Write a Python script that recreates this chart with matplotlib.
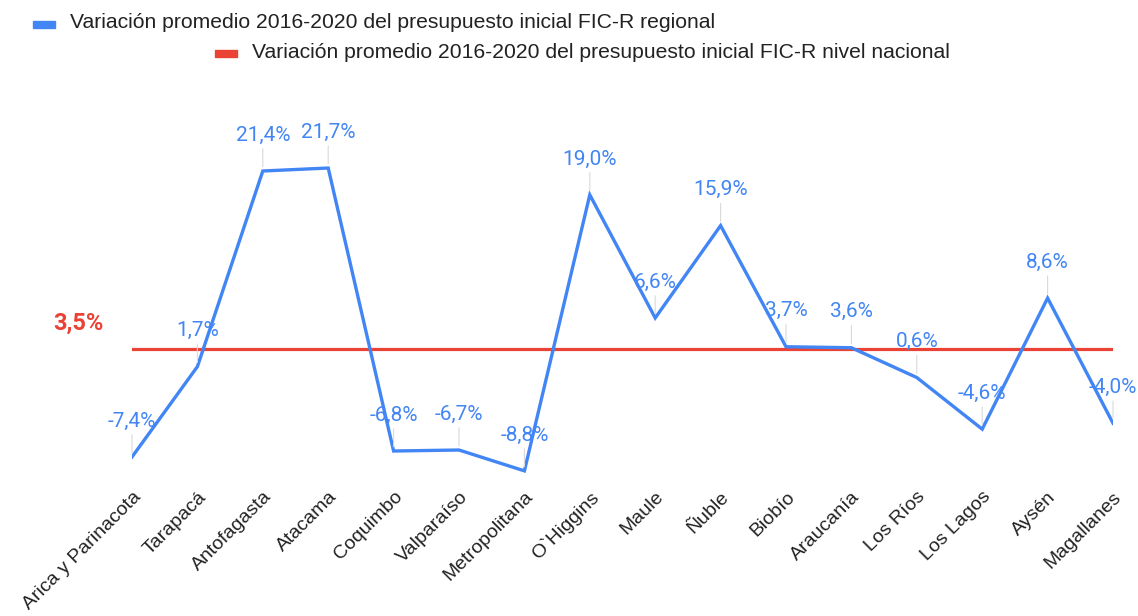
import matplotlib
matplotlib.use('Agg')
import matplotlib.pyplot as plt
from matplotlib.patches import Rectangle

# Datos
regiones = ['Arica y Parinacota', 'Tarapacá', 'Antofagasta', 'Atacama', 'Coquimbo',
            'Valparaíso', 'Metropolitana', 'O`Higgins', 'Maule', 'Ñuble', 'Biobío',
            'Araucanía', 'Los Ríos', 'Los Lagos', 'Aysén', 'Magallanes']
variacion_regional = [-7.4, 1.7, 21.4, 21.7, -6.8, -6.7, -8.8, 19.0, 6.6, 15.9,
                      3.7, 3.6, 0.6, -4.6, 8.6, -4.0]
variacion_nacional = 3.5

legend_regional = 'Variación promedio 2016-2020 del presupuesto inicial FIC-R regional'
legend_nacional = 'Variación promedio 2016-2020 del presupuesto inicial FIC-R nivel nacional'

azul = '#4285F4'
rojo = '#EA4335'

W, H = 1138, 616
fig = plt.figure(figsize=(W / 100, H / 100), dpi=100)
ax = fig.add_axes([132 / W, (H - 480) / H, (1113 - 132) / W, 380 / H])

x = list(range(len(regiones)))
ax.axhline(variacion_nacional, color=rojo, lw=2.3, zorder=2)
ax.plot(x, variacion_regional, color=azul, lw=2.4, zorder=3, solid_joinstyle='miter')

# Etiquetas de datos con línea guía
for xi, v in zip(x, variacion_regional):
    ax.annotate(f'{v:.1f}%'.replace('.', ','), xy=(xi, v), xytext=(0, 19),
                textcoords='offset points', ha='center', va='bottom',
                color=azul, fontsize=15, family='Roboto',
                arrowprops=dict(arrowstyle='-', color='#d9d9d9', lw=0.8,
                                shrinkA=1, shrinkB=3, relpos=(0.5, 0)))

ax.set_xlim(0, 15)
ax.set_ylim(-9.72, 28.55)
ax.set_xticks(x)
ax.set_xticklabels(regiones, rotation=45, ha='right', va='top',
                   rotation_mode='anchor', fontsize=14, family='Liberation Sans',
                   color='#222222')
ax.tick_params(axis='x', length=0, pad=6)
ax.set_yticks([])
for s in ax.spines.values():
    s.set_visible(False)

# Etiqueta del valor nacional
fig.text(53 / W, 1 - 323 / H, '3,5%', color=rojo, fontsize=17,
         fontweight='bold', family='Roboto', ha='left', va='center')

# Leyenda
fig.patches.append(Rectangle((33 / W, 1 - 28 / H), 22 / W, 7 / H,
                             transform=fig.transFigure, color=azul))
fig.text(70 / W, 1 - 23 / H, legend_regional, fontsize=15.2,
         family='Liberation Sans', color='#222222', va='center', ha='left')
fig.patches.append(Rectangle((215 / W, 1 - 57 / H), 22 / W, 7 / H,
                             transform=fig.transFigure, color=rojo))
fig.text(252 / W, 1 - 52 / H, legend_nacional, fontsize=15.2,
         family='Liberation Sans', color='#222222', va='center', ha='left')

fig.savefig('out.png', dpi=100)
